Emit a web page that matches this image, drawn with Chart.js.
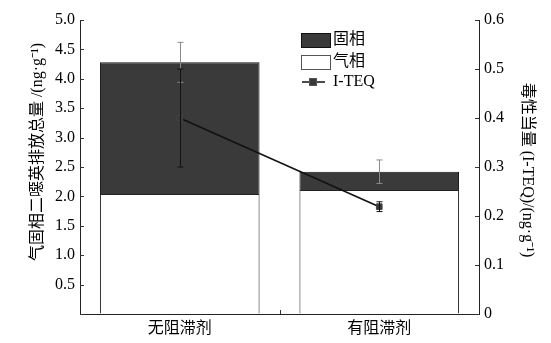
<!DOCTYPE html>
<html>
<head>
<meta charset="utf-8">
<script src="https://cdn.jsdelivr.net/npm/chart.js@4/dist/chart.umd.min.js"></script>
<style>
  body { margin: 0; background: #fff; }
  #wrap { width: 551px; height: 343px; }
</style>
</head>
<body>
<div id="wrap"><canvas id="chart" width="551" height="343"></canvas></div>
<script>
const categories = ["无阻滞剂", "有阻滞剂"];
const gasPhase = [2.04, 2.11];
const solidPhase = [2.24, 0.31];
const totalError = [0.34, 0.2];
const teq = [0.4, 0.219];
const teqError = [0.1, 0.01];

const leftTitle = "气固相二噁英排放总量 /(ng·g⁻¹)";
const rightTitle = "毒性当量 (I-TEQ)/(ng·g⁻¹)";

const FONT = "'Liberation Serif', 'Noto Sans CJK SC', serif";
const INK = "#000";

// error bars, inward ticks, axis titles, legend
const extras = {
  id: "extras",
  afterDatasetsDraw(chart) {
    const ctx = chart.ctx;
    const x = chart.scales.x;
    const y = chart.scales.y;
    const y1 = chart.scales.y1;
    const cap = 3;
    ctx.save();
    ctx.lineWidth = 1;
    categories.forEach((_, i) => {
      const cx = Math.round(x.getPixelForValue(i)) + 0.5;
      const total = gasPhase[i] + solidPhase[i];
      const top = y.getPixelForValue(total + totalError[i]);
      const bot = y.getPixelForValue(total - totalError[i]);
      ctx.strokeStyle = "#8a8a8a";
      ctx.beginPath();
      ctx.moveTo(cx, top); ctx.lineTo(cx, bot);
      ctx.moveTo(cx - cap, top); ctx.lineTo(cx + cap, top);
      ctx.moveTo(cx - cap, bot); ctx.lineTo(cx + cap, bot);
      ctx.stroke();
      const t = y1.getPixelForValue(teq[i] + teqError[i]);
      const b = y1.getPixelForValue(teq[i] - teqError[i]);
      ctx.strokeStyle = "#111";
      ctx.beginPath();
      ctx.moveTo(cx, t); ctx.lineTo(cx, b);
      ctx.moveTo(cx - cap, t); ctx.lineTo(cx + cap, t);
      ctx.moveTo(cx - cap, b); ctx.lineTo(cx + cap, b);
      ctx.stroke();
    });
    ctx.restore();
  },
  afterDraw(chart) {
    const ctx = chart.ctx;
    const area = chart.chartArea;
    const y = chart.scales.y;
    const y1 = chart.scales.y1;
    const x = chart.scales.x;
    ctx.save();
    ctx.strokeStyle = "#333";
    ctx.lineWidth = 1;
    ctx.beginPath();
    y.ticks.forEach((t) => {
      const py = Math.round(y.getPixelForValue(t.value)) + 0.5;
      ctx.moveTo(area.left, py); ctx.lineTo(area.left + 4, py);
    });
    y1.ticks.forEach((t) => {
      const py = Math.round(y1.getPixelForValue(t.value)) + 0.5;
      ctx.moveTo(area.right, py); ctx.lineTo(area.right - 4, py);
    });
    const mid = Math.round((x.getPixelForValue(0) + x.getPixelForValue(1)) / 2) + 0.5;
    ctx.moveTo(mid, area.bottom); ctx.lineTo(mid, area.bottom - 4);
    ctx.stroke();

    // axis titles
    ctx.fillStyle = INK;
    ctx.font = "16px " + FONT;
    ctx.textAlign = "center";
    ctx.textBaseline = "middle";
    ctx.save();
    ctx.translate(38, 152);
    ctx.rotate(-Math.PI / 2);
    ctx.fillText(leftTitle, 0, 0);
    ctx.restore();
    ctx.save();
    ctx.translate(527, 170);
    ctx.rotate(Math.PI / 2);
    ctx.fillText(rightTitle, 0, 0);
    ctx.restore();

    // legend
    ctx.lineWidth = 1;
    ctx.fillStyle = "#3a3a3a";
    ctx.strokeStyle = "#111";
    ctx.fillRect(301, 33, 29, 14);
    ctx.strokeRect(301.5, 33.5, 29, 14);
    ctx.fillStyle = "#fff";
    ctx.fillRect(301, 55, 29, 14);
    ctx.strokeStyle = "#555";
    ctx.strokeRect(301.5, 55.5, 29, 14);
    ctx.strokeStyle = "#111";
    ctx.lineWidth = 1.5;
    ctx.beginPath();
    ctx.moveTo(302, 82); ctx.lineTo(325, 82);
    ctx.stroke();
    ctx.fillStyle = "#3a3a3a";
    ctx.fillRect(309.5, 78.5, 7, 7);
    ctx.lineWidth = 1;
    ctx.strokeStyle = "#555";
    ctx.strokeRect(309.5, 78.5, 7, 7);
    ctx.fillStyle = INK;
    ctx.textAlign = "left";
    ctx.fillText("固相", 333, 40);
    ctx.fillText("气相", 333, 62);
    ctx.fillText("I-TEQ", 333, 82);
    ctx.restore();
  },
};

new Chart(document.getElementById("chart"), {
  type: "bar",
  data: {
    labels: categories,
    datasets: [
      {
        type: "line",
        label: "I-TEQ",
        data: teq,
        yAxisID: "y1",
        borderColor: "#111",
        borderWidth: 1.5,
        pointStyle: "rect",
        pointRadius: 4,
        pointBackgroundColor: "#3a3a3a",
        pointBorderColor: "#444",
        pointBorderWidth: 1,
        order: 0,
      },
      {
        label: "气相",
        data: gasPhase,
        backgroundColor: "#fff",
        borderColor: "#222",
        borderWidth: 1,
        stack: "s",
        order: 1,
      },
      {
        label: "固相",
        data: solidPhase,
        backgroundColor: "#3a3a3a",
        borderColor: "#111",
        borderWidth: 1,
        stack: "s",
        order: 1,
      },
    ],
  },
  options: {
    responsive: false,
    animation: false,
    layout: { padding: { top: 20 } },
    datasets: { bar: { categoryPercentage: 1, barPercentage: 0.8 } },
    plugins: { legend: { display: false }, tooltip: { enabled: false } },
    scales: {
      x: {
        stacked: true,
        grid: { display: true, drawOnChartArea: false, drawTicks: false, color: "#222" },
        border: { color: "#222" },
        ticks: { color: INK, font: { family: FONT, size: 16 }, padding: 5 },
        afterFit(s) { s.height = 29; },
      },
      y: {
        stacked: true,
        min: 0,
        max: 5,
        grid: { display: true, drawOnChartArea: false, drawTicks: false, color: "#222" },
        border: { color: "#222" },
        ticks: {
          stepSize: 0.5,
          color: INK,
          padding: 5,
          font: { family: FONT, size: 16 },
          callback: (v) => (v === 0 ? "" : v.toFixed(1)),
        },
        afterFit(s) { s.width = 80; },
      },
      y1: {
        position: "right",
        stacked: false,
        min: 0,
        max: 0.6,
        grid: { display: true, drawOnChartArea: false, drawTicks: false, color: "#222" },
        border: { color: "#222" },
        ticks: {
          stepSize: 0.1,
          color: INK,
          padding: 5,
          font: { family: FONT, size: 16 },
          callback: (v) => (v === 0 ? "0" : v.toFixed(1)),
        },
        afterFit(s) { s.width = 72; },
      },
    },
  },
  plugins: [extras],
});
</script>
</body>
</html>
